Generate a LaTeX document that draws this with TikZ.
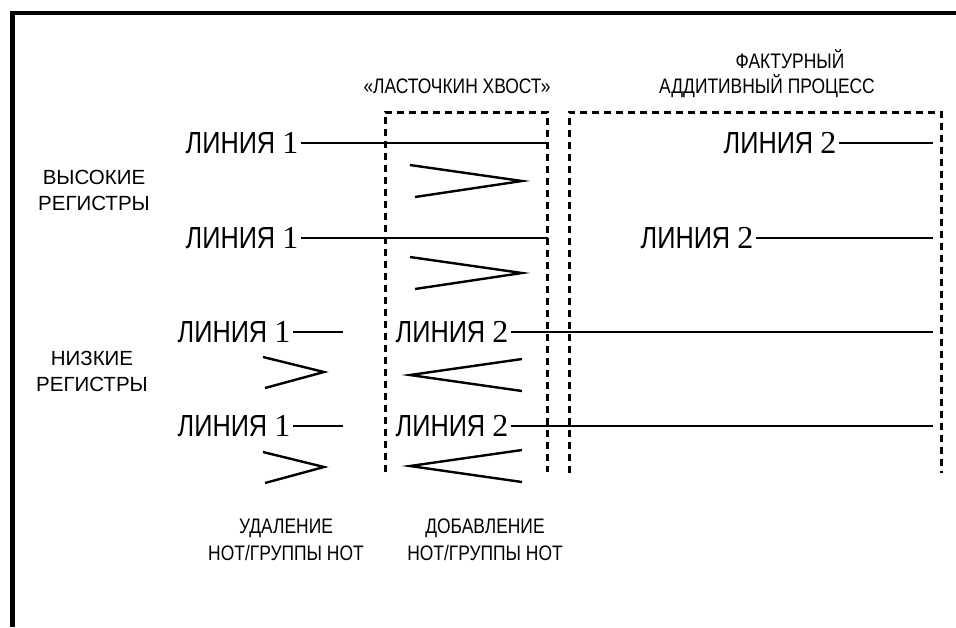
\documentclass[tikz,border=0pt]{standalone}
\usepackage{fontspec}
\setmainfont{Liberation Sans}
\newfontfamily\narrowsf[FakeStretch=0.83]{Liberation Sans}
\newfontfamily\numserif{Liberation Serif}
\usetikzlibrary{positioning}
\tikzset{
  lbl/.style={inner sep=0pt,font=\narrowsf\fontsize{21}{27}\selectfont,align=center},
  reg/.style={inner sep=0pt,font=\fontsize{20.5}{26}\selectfont,align=center},
  voice/.style={inner ysep=0pt,inner xsep=2.5pt,anchor=west,font=\narrowsf\fontsize{30.5}{34}\selectfont},
  trace/.style={line width=1.2pt},
  sign/.style={line width=2.4pt},
  zone/.style={line width=3pt,dash pattern=on 7pt off 5pt},
  frame/.style={line width=4.5pt},
}
\newcommand{\voicetext}[1]{ЛИНИЯ~{\numserif\fontsize{32}{34}\selectfont #1}}

\begin{document}
\begin{tikzpicture}[x=1pt,y=-1pt]
  \useasboundingbox (0,0) rectangle (956,627);
  % frame
  \draw[frame] (12.5,627) -- (12.5,13) -- (956,13);

  % headings
  \node[lbl] (swallow) at (457,86) {«ЛАСТОЧКИН ХВОСТ»};
  \node[lbl] (tex1) at (790,59) {ФАКТУРНЫЙ};
  \node[lbl] (tex2) at (767,86) {АДДИТИВНЫЙ ПРОЦЕСС};
  \node[reg] (high) at (94,190) {ВЫСОКИЕ\\РЕГИСТРЫ};
  \node[reg] (low) at (92,371) {НИЗКИЕ\\РЕГИСТРЫ};
  \node[lbl] (remove) at (286,540) {УДАЛЕНИЕ\\НОТ/ГРУППЫ НОТ};
  \node[lbl] (insert) at (485,540) {ДОБАВЛЕНИЕ\\НОТ/ГРУППЫ НОТ};

  % dashed zones (open at the bottom)
  \draw[zone] (385,472) -- (385,112) -- (547,112) -- (547,472);
  \draw[zone] (569,473) -- (569,112) -- (941,112) -- (941,473);

  % voices
  \node[voice] (v1a) at (183,143) {\voicetext{1}};
  \node[voice] (v1b) at (183,238) {\voicetext{1}};
  \node[voice] (v1c) at (175,332) {\voicetext{1}};
  \node[voice] (v1d) at (175,426) {\voicetext{1}};
  \node[voice] (v2c) at (393,332) {\voicetext{2}};
  \node[voice] (v2d) at (393,426) {\voicetext{2}};
  \node[voice] (v2a) at (721,143) {\voicetext{2}};
  \node[voice] (v2b) at (638,238) {\voicetext{2}};

  \coordinate (e1a) at (548,143);
  \coordinate (e1b) at (548,238);
  \coordinate (e1c) at (343,332);
  \coordinate (e1d) at (343,426);
  \coordinate (e2a) at (933,143);
  \coordinate (e2b) at (933,238);
  \coordinate (e2c) at (933,332);
  \coordinate (e2d) at (933,426);

  \foreach \v in {1a,1b,1c,1d,2a,2b,2c,2d}
    \draw[trace] (v\v) -- (e\v);

  % signs
  \foreach \y in {181,273}
    \draw[sign] (410,\y-16) -- (522,\y) -- (415,\y+16);
  \foreach \y in {372,467}
    \draw[sign] (263,\y-15) -- (324,\y) -- (265,\y+16);
  \foreach \y in {375,466}
    \draw[sign] (522,\y-16) -- (410,\y) -- (522,\y+16);
\end{tikzpicture}
\end{document}
